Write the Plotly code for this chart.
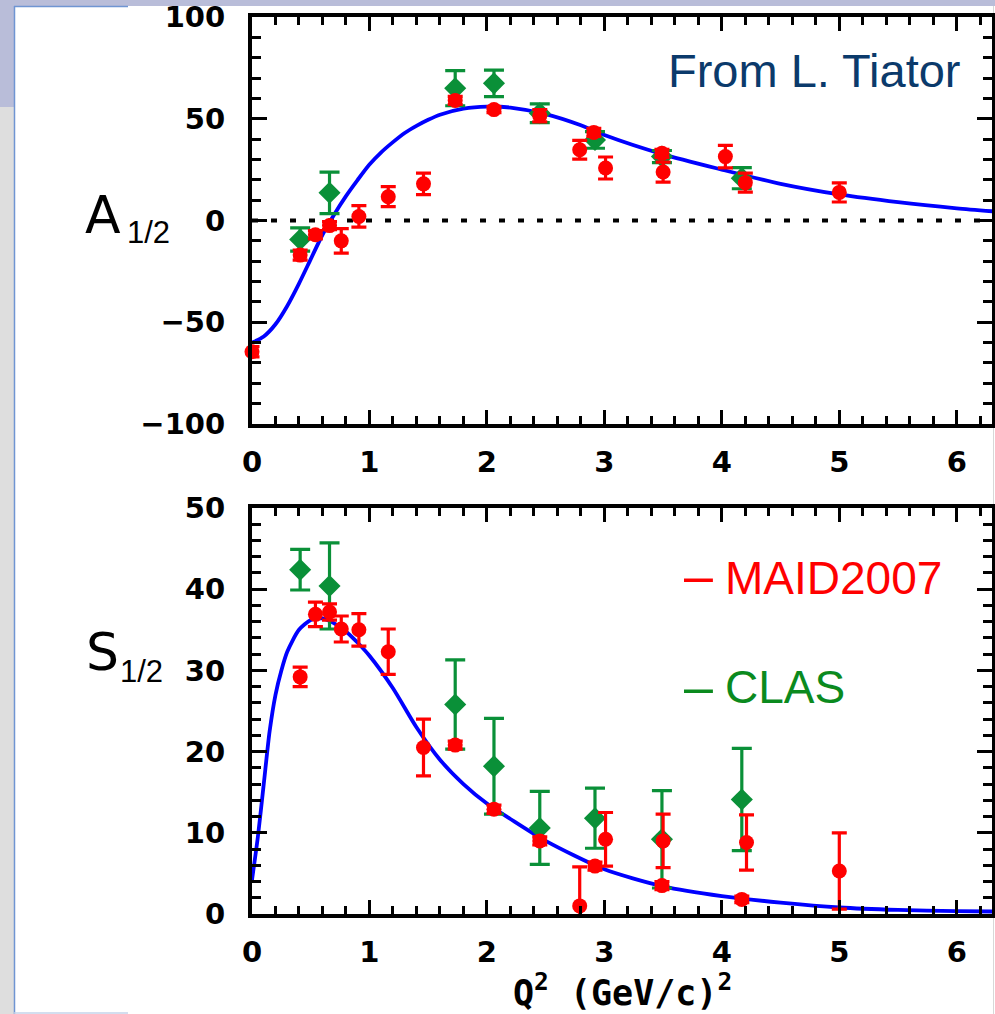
import plotly.graph_objects as go

# ---------------- data ----------------
# A1/2 helicity amplitude (10^-3 GeV^-1/2) vs Q^2 (GeV/c)^2
a_maid_q2 = [0.0, 0.41, 0.54, 0.66, 0.76, 0.91, 1.16, 1.46, 1.73, 2.06, 2.45,
             2.79, 2.91, 3.01, 3.49, 3.50, 4.03, 4.20, 5.00]
a_maid_val = [-64.5, -17.0, -7.0, -2.5, -10.0, 2.0, 11.7, 18.0, 59.0, 54.5, 51.5,
              34.8, 43.3, 25.8, 33.0, 23.8, 31.4, 18.6, 13.8]
a_maid_err = [2.5, 2.5, 2.0, 2.0, 6.0, 5.3, 4.9, 5.3, 2.0, 1.5, 3.0,
              4.6, 2.0, 5.4, 2.0, 4.9, 5.5, 4.7, 4.7]

a_clas_q2 = [0.41, 0.66, 1.73, 2.06, 2.45, 2.92, 3.49, 4.17]
a_clas_val = [-9.3, 13.6, 65.0, 67.4, 52.7, 39.6, 31.4, 20.8]
a_clas_err = [5.7, 10.2, 8.6, 6.5, 4.6, 4.1, 3.0, 5.2]

a_curve_q2 = [0.0, 0.1, 0.2, 0.3, 0.4, 0.5, 0.6, 0.7, 0.8, 0.9, 1.0, 1.1, 1.2,
              1.3, 1.4, 1.5, 1.6, 1.8, 2.0, 2.2, 2.5, 2.8, 3.0, 3.5, 4.0, 4.5,
              5.0, 5.5, 6.0, 6.35]
a_curve_val = [-60.0, -57.0, -51.0, -42.0, -31.0, -19.0, -7.0, 3.0, 12.0, 20.0,
               27.5, 33.5, 38.5, 43.0, 46.5, 49.5, 52.0, 55.0, 56.0, 55.5, 52.3,
               46.8, 42.0, 32.5, 25.0, 18.0, 12.8, 9.0, 6.0, 4.3]

# S1/2 helicity amplitude vs Q^2
s_maid_q2 = [0.41, 0.54, 0.66, 0.76, 0.91, 1.16, 1.46, 1.73, 2.06, 2.45, 2.79,
             2.92, 3.01, 3.49, 3.50, 4.17, 4.21, 5.00]
s_maid_val = [29.2, 36.9, 37.2, 35.1, 35.0, 32.3, 20.5, 20.8, 12.9, 9.0, 1.0,
              5.9, 9.2, 3.5, 9.0, 1.8, 8.8, 5.3]
s_maid_err = [1.2, 1.5, 1.0, 1.6, 2.0, 2.8, 3.5, 0.5, 0.5, 0.5, 4.8,
              0.5, 3.3, 0.5, 3.3, 0.4, 3.4, 4.7]

s_clas_q2 = [0.41, 0.66, 1.73, 2.06, 2.45, 2.92, 3.49, 4.17]
s_clas_val = [42.4, 40.4, 25.8, 18.2, 10.6, 11.8, 9.2, 14.1]
s_clas_err = [2.5, 5.3, 5.5, 5.9, 4.5, 3.7, 6.0, 6.3]

s_curve_q2 = [0.0, 0.05, 0.1, 0.15, 0.2, 0.25, 0.3, 0.4, 0.5, 0.6, 0.7, 0.8,
              0.9, 1.0, 1.2, 1.4, 1.6, 1.8, 2.0, 2.2, 2.5, 3.0, 3.5, 4.0, 4.5,
              5.0, 5.5, 6.0, 6.35]
s_curve_val = [4.2, 9.5, 16.0, 22.5, 27.0, 30.0, 32.3, 35.0, 36.2, 36.4, 35.8,
               34.8, 33.4, 31.8, 27.8, 23.0, 19.0, 16.0, 13.6, 11.7, 9.0, 5.5,
               3.4, 2.2, 1.4, 0.8, 0.5, 0.35, 0.3]

x_ticks = [0, 1, 2, 3, 4, 5, 6]
a_ticks = [-100, -50, 0, 50, 100]
s_ticks = [0, 10, 20, 30, 40, 50]

# ---------------- styling ----------------
W, H = 995, 1014
RED = "#ff0000"
GREEN = "#0a9038"
GREEN_TXT = "#0b8a1e"
BLUE = "#0000ff"
NAVY = "#0b3a6b"
TICK_FONT = dict(family="DejaVu Sans", size=29, color="black", weight="bold")


def px(x):
    return x / W


def py(y):
    return 1 - y / H


fig = go.Figure()

panels = [
    ("x", "y", a_curve_q2, a_curve_val, a_clas_q2, a_clas_val, a_clas_err,
     a_maid_q2, a_maid_val, a_maid_err),
    ("x2", "y2", s_curve_q2, s_curve_val, s_clas_q2, s_clas_val, s_clas_err,
     s_maid_q2, s_maid_val, s_maid_err),
]

for xa, ya, cq, cv, gq, gv, ge, rq, rv, re in panels:
    fig.add_trace(go.Scatter(
        x=cq, y=cv, mode="lines",
        line=dict(color=BLUE, width=3.8, shape="spline", smoothing=0.7),
        xaxis=xa, yaxis=ya, showlegend=False, hoverinfo="skip"))
    fig.add_trace(go.Scatter(
        x=gq, y=gv, mode="markers", cliponaxis=False,
        marker=dict(symbol="diamond", size=17, color=GREEN),
        error_y=dict(type="data", array=ge, color=GREEN, thickness=3.2, width=10),
        xaxis=xa, yaxis=ya, showlegend=False))
    fig.add_trace(go.Scatter(
        x=rq, y=rv, mode="markers", cliponaxis=False,
        marker=dict(symbol="circle", size=15, color=RED),
        error_y=dict(type="data", array=re, color=RED, thickness=3.2, width=7.5),
        xaxis=xa, yaxis=ya, showlegend=False))

common_x = dict(
    range=[0, 6.3], tickvals=x_ticks, ticks="inside", ticklen=14, tickwidth=3,
    tickcolor="black", showline=True, linewidth=4, linecolor="black",
    mirror="ticks", showgrid=False, zeroline=False, tickfont=TICK_FONT,
    ticklabelstandoff=9, automargin=False, ticklabeloverflow="allow",
    minor=dict(dtick=0.2, tick0=0, ticks="inside", ticklen=8, tickwidth=3,
               tickcolor="black", showgrid=False),
)
common_y = dict(
    ticks="inside", ticklen=15, tickwidth=3, tickcolor="black",
    showline=True, linewidth=4, linecolor="black", mirror="ticks",
    showgrid=False, zeroline=False, tickfont=TICK_FONT, ticklabelstandoff=17,
    automargin=False, ticklabeloverflow="allow",
)

fig.update_layout(
    width=W, height=H,
    margin=dict(l=0, r=0, t=0, b=0, pad=0, autoexpand=False),
    paper_bgcolor="white", plot_bgcolor="white",
    xaxis=dict(domain=[px(252), px(992)], anchor="y", **common_x),
    yaxis=dict(domain=[py(424), py(17)], anchor="x", range=[-100, 100],
               tickvals=a_ticks,
               minor=dict(dtick=10, tick0=0, ticks="inside", ticklen=9,
                          tickwidth=3, tickcolor="black", showgrid=False),
               **common_y),
    xaxis2=dict(domain=[px(252), px(992)], anchor="y2", **common_x),
    yaxis2=dict(domain=[py(914), py(508)], anchor="x2", range=[0, 50],
                tickvals=s_ticks,
                minor=dict(dtick=2, tick0=0, ticks="inside", ticklen=9,
                           tickwidth=3, tickcolor="black", showgrid=False),
                **common_y),
)

# zero reference line in the A1/2 panel
fig.add_shape(type="line", xref="x domain", yref="y", x0=0, x1=1, y0=0, y1=0,
              line=dict(color="black", width=4, dash="6px,13px"), layer="below")

# slide frame around the chart
shapes = [
    dict(type="rect", x0=0, x1=1, y0=py(6), y1=1, fillcolor="#b9bdd9", line_width=0),
    dict(type="rect", x0=0, x1=px(14), y0=py(107), y1=1, fillcolor="#b9bdd9", line_width=0),
    dict(type="rect", x0=0, x1=px(14), y0=0, y1=py(107), fillcolor="#dedede", line_width=0),
    dict(type="line", x0=px(14.5), x1=px(14.5), y0=0, y1=py(6), line=dict(color="#6f95d2", width=1.5)),
    dict(type="line", x0=px(14), x1=px(128), y0=py(6.5), y1=py(6.5), line=dict(color="#6f95d2", width=1.5)),
    dict(type="line", x0=px(14), x1=px(128), y0=py(1013), y1=py(1013), line=dict(color="#c5d3ea", width=1.5)),
    dict(type="line", x0=px(993.5), x1=px(993.5), y0=0, y1=py(6), line=dict(color="#d8d8d8", width=1)),
]
for s in shapes:
    fig.add_shape(xref="paper", yref="paper", layer="below", **s)

annotations = [
    # amplitude labels: main letter and a separate, smaller subscript
    dict(text="A", x=px(83), y=py(215), xanchor="left", yanchor="middle",
         font=dict(family="DejaVu Sans", size=52, color="black")),
    dict(text="1/2", x=px(125), y=py(233), xanchor="left", yanchor="middle",
         font=dict(family="Liberation Sans", size=31, color="black")),
    dict(text="S", x=px(84), y=py(652), xanchor="left", yanchor="middle",
         font=dict(family="DejaVu Sans", size=52, color="black")),
    dict(text="1/2", x=px(118), y=py(671), xanchor="left", yanchor="middle",
         font=dict(family="Liberation Sans", size=31, color="black")),
    dict(text="From L. Tiator", x=px(963), y=py(70), xanchor="right", yanchor="middle",
         font=dict(family="Liberation Sans", size=47, color=NAVY)),
    # legend-style labels: dash and name
    dict(text="–", x=px(682), y=py(575), xanchor="left", yanchor="middle",
         font=dict(family="Liberation Sans", size=52, color=RED)),
    dict(text="MAID2007", x=px(723), y=py(578), xanchor="left", yanchor="middle",
         font=dict(family="Liberation Sans", size=46, color=RED)),
    dict(text="–", x=px(682), y=py(686), xanchor="left", yanchor="middle",
         font=dict(family="Liberation Sans", size=52, color=GREEN_TXT)),
    dict(text="CLAS", x=px(723), y=py(687), xanchor="left", yanchor="middle",
         font=dict(family="Liberation Sans", size=46, color=GREEN_TXT)),
    dict(text="Q<sup>2</sup> (GeV/c)<sup>2</sup>", x=px(622), y=py(990),
         xanchor="center", yanchor="middle",
         font=dict(family="DejaVu Sans Mono", size=35, color="black", weight="bold")),
]
for a in annotations:
    fig.add_annotation(xref="paper", yref="paper", showarrow=False, **a)

fig.write_html("out.html")
